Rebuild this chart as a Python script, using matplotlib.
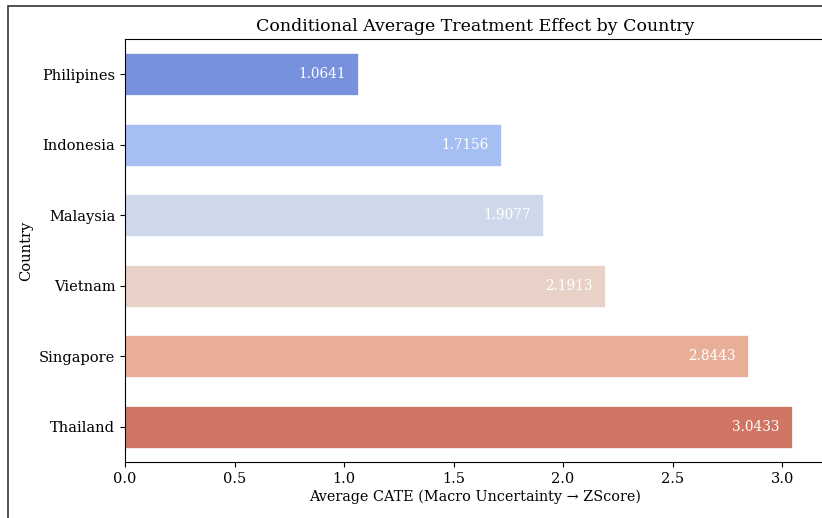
import colorsys
import numpy as np
import matplotlib
matplotlib.use("Agg")
import matplotlib.pyplot as plt
from matplotlib.patches import Rectangle

plt.rcParams['font.family'] = 'DejaVu Serif'

countries = ["Philipines", "Indonesia", "Malaysia", "Vietnam", "Singapore", "Thailand"]
avg_cate = [1.0641, 1.7156, 1.9077, 2.1913, 2.8443, 3.0433]


def desaturate(rgb, prop=0.75):
    h, l, s = colorsys.rgb_to_hls(*rgb[:3])
    return colorsys.hls_to_rgb(h, l, s * prop)


# coolwarm sampled like seaborn's color_palette("coolwarm", n), then toned down
cmap = matplotlib.colormaps["coolwarm"]
colors = [desaturate(c) for c in cmap(np.linspace(0, 1, len(countries) + 2)[1:-1])]

fig = plt.figure(figsize=(8.22, 5.18), dpi=100)
ax = fig.add_axes([125 / 822, 1 - 462 / 518, 700 / 822, (462 - 39) / 518])

# frame around the whole figure
fig.patches.append(Rectangle((8 / 822, -0.05), 1.2, 1 - 6 / 518 + 0.05,
                             transform=fig.transFigure, fill=False,
                             edgecolor="#333333", linewidth=1.2))

y = np.arange(len(countries))
bars = ax.barh(y, avg_cate, height=0.6, color=colors, edgecolor="white", linewidth=0.5)

for b, v in zip(bars, avg_cate):
    ax.text(b.get_width() - 0.055, b.get_y() + b.get_height() / 2, f"{v:.4f}",
            ha="right", va="center", color="white", fontsize=9.8)

ax.set_yticks(y)
ax.set_yticklabels(countries, fontsize=10.5)
ax.set_ylim(len(countries) - 0.5, -0.5)
ax.set_xlim(0, max(avg_cate) * 1.05)
ax.set_xticks(np.arange(0, 3.01, 0.5))
ax.tick_params(axis='x', labelsize=10.5)
ax.spines['right'].set_visible(False)

ax.set_title("Conditional Average Treatment Effect by Country", fontsize=12.5, pad=6)
ax.set_xlabel("Average CATE (Macro Uncertainty \u2192 ZScore)", fontsize=10.4, labelpad=3)
ax.set_ylabel("Country", fontsize=10.5)

fig.savefig("out.png", dpi=100)
